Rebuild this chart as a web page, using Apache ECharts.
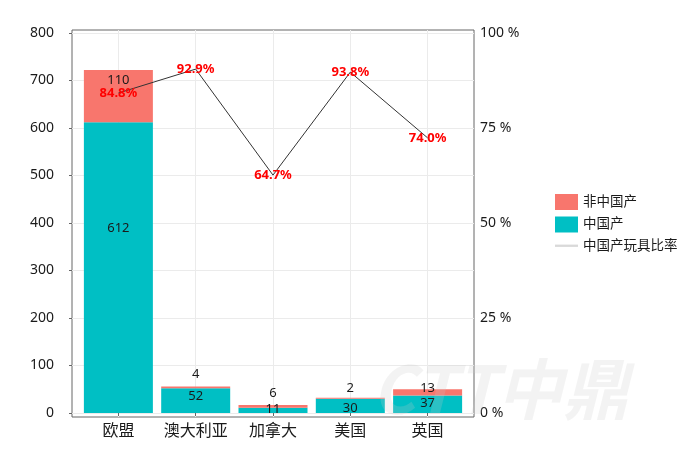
<!DOCTYPE html>
<html>
<head>
<meta charset="utf-8">
<script src="https://cdn.jsdelivr.net/npm/echarts@6/dist/echarts.min.js"></script>
<style>
  html, body { margin: 0; padding: 0; background: #fff; }
  #chart { width: 700px; height: 456px; }
</style>
</head>
<body>
<div id="chart"></div>
<script>
// 数据
const categories = ['欧盟', '澳大利亚', '加拿大', '美国', '英国'];
const chinaMade = [612, 52, 11, 30, 37];
const nonChinaMade = [110, 4, 6, 2, 13];
// 比率折线：图上的点位（%）与标注文字
const shareLine = [84.2, 90.5, 62.6, 89.7, 72.4];
const shareLabels = ['84.8%', '92.9%', '64.7%', '93.8%', '74.0%'];
const leftTicks = [0, 100, 200, 300, 400, 500, 600, 700, 800];
const rightTicks = [0, 25, 50, 75, 100];

// 标签偏移（像素）
const chinaLabelDy = [-39, -4, -1.5, 2, -1];
const nonChinaLabelDy = [-15.5, -13, -13, -10, -4];

const FONT = '"Noto Sans", "Noto Sans CJK SC", sans-serif';
const xs = categories.map((c, i) => i + 1);

// 面板范围：左轴 0 -> 413px, 800 -> 33px
const Y_MIN = -8.4, Y_MAX = 806.3;
const PANEL = { left: 72, right: 226, top: 30, bottom: 39 };
const step = (700 - PANEL.left - PANEL.right) / 5.2;

const chart = echarts.init(document.getElementById('chart'), null, { renderer: 'canvas' });

const option = {
  animation: false,
  backgroundColor: '#fff',
  textStyle: { fontFamily: FONT },
  grid: [
    // 面板：边框、网格线、刻度和标签
    Object.assign({ show: true, borderColor: '#666', borderWidth: 1 }, PANEL),
    // 柱子和折线
    {
      left: PANEL.left + 0.1 * step,
      right: 700 - PANEL.left - 5.1 * step,
      top: PANEL.top, bottom: PANEL.bottom
    }
  ],
  legend: {
    orient: 'vertical',
    left: 550, top: 189,
    itemWidth: 23, itemHeight: 16, itemGap: 6.5,
    textStyle: { fontSize: 13.5, color: '#1a1a1a', fontFamily: FONT },
    data: [
      { name: '非中国产', icon: 'rect' },
      { name: '中国产', icon: 'rect' },
      {
        name: '中国产玩具比率',
        icon: 'path://M0,0 L20,0 L20,2 L0,2 Z',
        itemStyle: { color: '#d9d9d9' }
      }
    ]
  },
  xAxis: [
    {
      type: 'value',
      gridIndex: 0,
      min: 0.4, max: 5.6,
      axisLine: { show: false },
      axisTick: { show: true, length: 3, lineStyle: { color: '#666' }, customValues: xs },
      axisLabel: {
        customValues: xs,
        margin: 6,
        fontSize: 16,
        color: '#1a1a1a',
        fontFamily: FONT,
        formatter: v => categories[Math.round(v) - 1] || ''
      },
      splitLine: { show: true, lineStyle: { color: '#ebebeb', width: 1 } }
    },
    {
      type: 'category',
      gridIndex: 1,
      data: categories,
      show: false
    }
  ],
  yAxis: [
    {
      type: 'value',
      gridIndex: 0,
      min: Y_MIN, max: Y_MAX,
      axisLine: { show: false },
      axisTick: { show: true, length: 3, lineStyle: { color: '#666' }, customValues: leftTicks },
      axisLabel: { customValues: leftTicks, fontSize: 14, color: '#1a1a1a', margin: 18, fontFamily: FONT },
      splitLine: { show: true, lineStyle: { color: '#ebebeb', width: 1 } }
    },
    {
      type: 'value',
      gridIndex: 0,
      min: Y_MIN / 8, max: Y_MAX / 8,
      position: 'right',
      axisLine: { show: false },
      axisTick: { show: false, customValues: rightTicks },
      axisLabel: {
        customValues: rightTicks, fontSize: 14, color: '#1a1a1a', margin: 6, fontFamily: FONT,
        formatter: '{value} %'
      },
      splitLine: { show: false }
    },
    { type: 'value', gridIndex: 1, min: Y_MIN, max: Y_MAX, show: false, splitLine: { show: false } },
    { type: 'value', gridIndex: 1, min: Y_MIN / 8, max: Y_MAX / 8, show: false, splitLine: { show: false } }
  ],
  series: [
    {
      name: '中国产',
      type: 'bar',
      xAxisIndex: 1, yAxisIndex: 2,
      stack: 'toys',
      barWidth: 69,
      itemStyle: { color: '#00BFC4' },
      label: { show: true, position: 'inside', fontSize: 13, color: '#1a1a1a', fontFamily: FONT },
      data: chinaMade.map((v, i) => ({ value: v, label: { offset: [0, chinaLabelDy[i]] } }))
    },
    {
      name: '非中国产',
      type: 'bar',
      xAxisIndex: 1, yAxisIndex: 2,
      stack: 'toys',
      barWidth: 69,
      itemStyle: { color: '#F8766D' },
      label: { show: true, position: 'inside', fontSize: 13, color: '#1a1a1a', fontFamily: FONT },
      data: nonChinaMade.map((v, i) => ({ value: v, label: { offset: [0, nonChinaLabelDy[i]] } }))
    },
    {
      name: '中国产玩具比率',
      type: 'line',
      xAxisIndex: 1, yAxisIndex: 3,
      symbol: 'circle',
      symbolSize: 1,
      showSymbol: true,
      itemStyle: { color: 'rgba(0,0,0,0)' },
      lineStyle: { color: '#333', width: 1 },
      label: {
        show: true, position: 'inside', fontSize: 13, fontWeight: 'bold', color: '#ff0000',
        fontFamily: FONT,
        formatter: p => shareLabels[p.dataIndex]
      },
      z: 5,
      data: shareLine
    }
  ],
  graphic: [
    {
      type: 'text',
      left: 372, top: 356,
      z: 100,
      silent: true,
      style: {
        text: 'CTT中鼎',
        font: 'italic bold 66px "Noto Sans CJK SC", sans-serif',
        fill: 'rgba(200,200,200,0.22)'
      }
    }
  ]
};

chart.setOption(option);
</script>
</body>
</html>
